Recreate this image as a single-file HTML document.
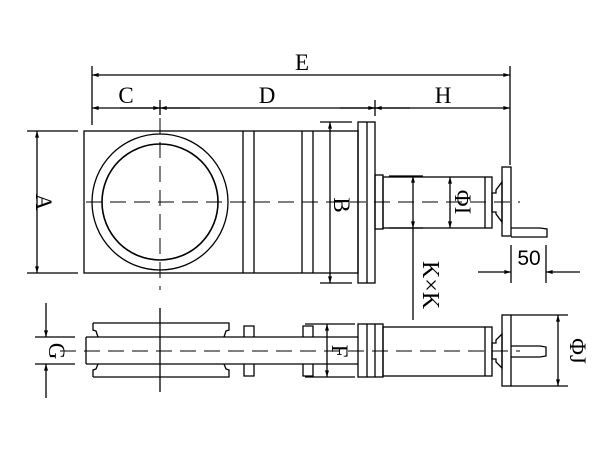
<!DOCTYPE html>
<html><head><meta charset="utf-8"><style>html,body{margin:0;padding:0;background:#fff}svg{display:block}</style></head><body>
<svg width="600" height="450" viewBox="0 0 600 450" xmlns="http://www.w3.org/2000/svg">
<defs>
<marker id="a" viewBox="0 0 10 6" refX="10" refY="3" markerWidth="10" markerHeight="4" markerUnits="userSpaceOnUse" orient="auto-start-reverse"><path d="M0,0 L10,3 L0,6 z" fill="#000"/></marker>
</defs>
<g fill="none" stroke="#000" stroke-width="1.3">
<line x1="92" y1="66" x2="92" y2="125"/>
<line x1="510" y1="66" x2="510" y2="165"/>
<line x1="160" y1="100" x2="160" y2="115"/>
<line x1="375" y1="100" x2="375" y2="116"/>
<line x1="92" y1="75" x2="510" y2="75" marker-start="url(#a)" marker-end="url(#a)"/>
<line x1="92" y1="108" x2="510" y2="108" marker-start="url(#a)" marker-end="url(#a)"/>
<line x1="120" y1="108" x2="160" y2="108" marker-end="url(#a)"/>
<line x1="200" y1="108" x2="160" y2="108" marker-end="url(#a)"/>
<line x1="340" y1="108" x2="375" y2="108" marker-end="url(#a)"/>
<line x1="410" y1="108" x2="375" y2="108" marker-end="url(#a)"/>
<line x1="27" y1="131" x2="78" y2="131"/>
<line x1="27" y1="273" x2="78" y2="273"/>
<line x1="37" y1="131" x2="37" y2="273" marker-start="url(#a)" marker-end="url(#a)"/>
<rect x="84" y="131" width="274" height="142"/>
<line x1="243" y1="131" x2="243" y2="273"/>
<line x1="254" y1="131" x2="254" y2="273"/>
<line x1="302" y1="131" x2="302" y2="273"/>
<line x1="313" y1="131" x2="313" y2="273"/>
<circle cx="160" cy="202" r="68"/>
<circle cx="160" cy="202" r="58" stroke-width="1.6"/>
<line x1="320" y1="122" x2="352" y2="122"/>
<line x1="320" y1="283" x2="352" y2="283"/>
<line x1="330" y1="122" x2="330" y2="283" marker-start="url(#a)" marker-end="url(#a)"/>
<rect x="358" y="122" width="17" height="161"/>
<line x1="367" y1="122" x2="367" y2="283"/>
<rect x="375" y="175" width="8" height="54"/>
<rect x="383" y="177" width="109" height="51"/>
<line x1="485" y1="177" x2="485" y2="228"/>
<line x1="389" y1="176" x2="423" y2="176"/>
<line x1="389" y1="228" x2="423" y2="228"/>
<line x1="413" y1="176" x2="413" y2="228" marker-start="url(#a)" marker-end="url(#a)"/>
<line x1="413" y1="228" x2="413" y2="320"/>
<line x1="450" y1="177" x2="450" y2="228" marker-start="url(#a)" marker-end="url(#a)"/>
<path d="M492,193 L496,193 L496,190 L502,182 L502,222 L496,214 L496,212 L492,212 z"/>
<rect x="502" y="167" width="9" height="69"/>
<path d="M511,228 L540,228 L547,229 L547,237 L511,237"/>
<line x1="511" y1="245" x2="511" y2="283"/>
<line x1="546" y1="245" x2="546" y2="283"/>
<line x1="478" y1="272" x2="511" y2="272" marker-end="url(#a)"/>
<line x1="580" y1="272" x2="546" y2="272" marker-end="url(#a)"/>
<line x1="86" y1="202" x2="520" y2="202" stroke-dasharray="16,8" stroke-width="1"/>
<line x1="160" y1="118" x2="160" y2="290" stroke-dasharray="16,8" stroke-width="1"/>

<line x1="35" y1="337" x2="75" y2="337"/>
<line x1="35" y1="364" x2="75" y2="364"/>
<line x1="46" y1="303" x2="46" y2="337" marker-end="url(#a)"/>
<line x1="46" y1="398" x2="46" y2="364" marker-end="url(#a)"/>
<line x1="86" y1="337" x2="358" y2="337"/>
<line x1="86" y1="364" x2="358" y2="364"/>
<line x1="86" y1="337" x2="86" y2="364"/>
<path d="M93,323 L229,323 L229,330 L226,331 L224,337 M93,323 L93,330 L96,331 L98,337"/>
<path d="M93,377 L229,377 L229,370 L226,369 L224,364 M93,377 L93,370 L96,369 L98,364"/>
<line x1="160" y1="308" x2="160" y2="392"/>
<path d="M244,337 L244,326 L254,326 L254,337 M244,364 L244,376 L254,376 L254,364"/>
<path d="M303,337 L303,326 L313,326 L313,337 M303,364 L303,376 L313,376 L313,364"/>
<line x1="305" y1="324" x2="355" y2="324"/>
<line x1="305" y1="377" x2="355" y2="377"/>
<line x1="327" y1="324" x2="327" y2="377" marker-start="url(#a)" marker-end="url(#a)"/>
<rect x="358" y="324" width="25" height="53"/>
<line x1="367" y1="324" x2="367" y2="377"/>
<line x1="375" y1="324" x2="375" y2="377"/>
<rect x="383" y="327" width="109" height="49"/>
<line x1="485" y1="327" x2="485" y2="376"/>
<path d="M492,343 L496,343 L496,340 L502,334 L502,368 L496,362 L496,359 L492,359 z"/>
<rect x="502" y="315" width="9" height="71"/>
<path d="M511,346 L540,346 L546,347 L546,356 L540,357 L511,357"/>
<line x1="511" y1="315" x2="568" y2="315"/>
<line x1="511" y1="386" x2="568" y2="386"/>
<line x1="558" y1="315" x2="558" y2="386" marker-start="url(#a)" marker-end="url(#a)"/>
<line x1="60" y1="351" x2="520" y2="351" stroke-dasharray="16,8" stroke-width="1"/>
</g>
<g font-family="Liberation Serif, serif" font-size="23" fill="#000" text-anchor="middle">
<text x="302" y="70">E</text>
<text x="126" y="103">C</text>
<text x="267" y="103">D</text>
<text x="443" y="103">H</text>
<text x="529" y="265" font-family="Liberation Sans, sans-serif" font-size="21">50</text>
<text transform="translate(44,202) rotate(90)" y="8">A</text>
<text transform="translate(342,205) rotate(90)" y="8">B</text>
<text transform="translate(463,202) rotate(90)" y="8">ΦI</text>
<text transform="translate(431,285) rotate(90)" y="8" font-size="24">K×K</text>
<text transform="translate(57,351) rotate(90)" y="8">G</text>
<text transform="translate(340,351) rotate(90)" y="8">F</text>
<text transform="translate(578,351) rotate(90)" y="8">ΦJ</text>
</g>
</svg>
</body></html>
